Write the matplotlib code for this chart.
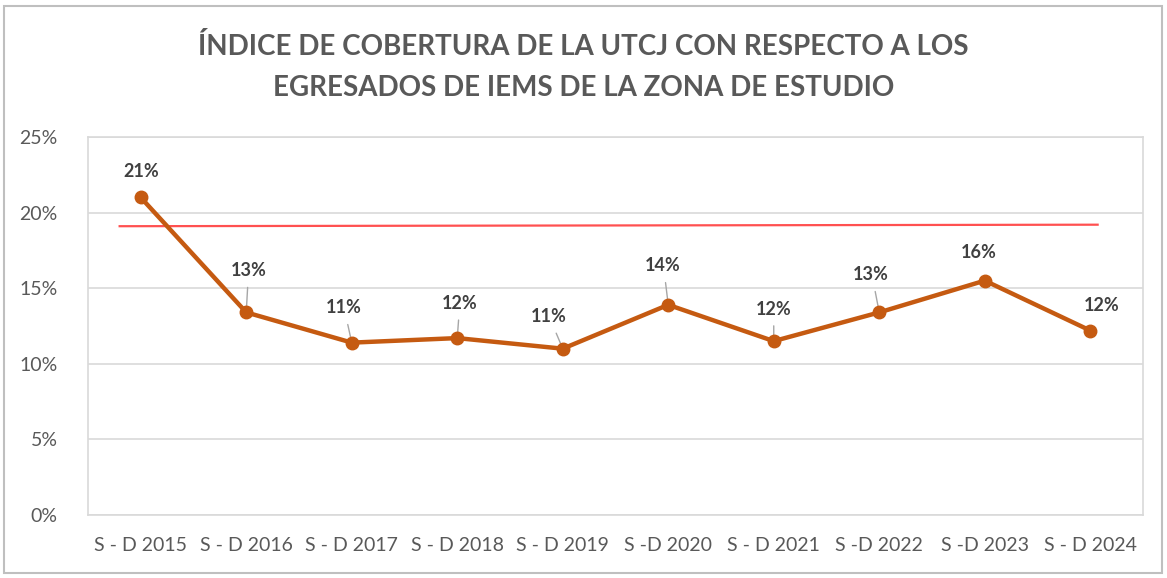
import matplotlib
matplotlib.use("Agg")
import matplotlib.pyplot as plt
from matplotlib.patches import Rectangle

categories = ["S - D 2015", "S - D 2016", "S - D 2017", "S - D 2018", "S - D 2019",
              "S -D 2020", "S - D 2021", "S -D 2022", "S -D 2023", "S - D 2024"]
values = [21.0, 13.4, 11.4, 11.7, 11.0, 13.9, 11.5, 13.4, 15.5, 12.2]
labels = ["21%", "13%", "11%", "12%", "11%", "14%", "12%", "13%", "16%", "12%"]
ref_x = [-0.2, 9.07]
ref_y = [19.1, 19.2]
yticks = [0, 5, 10, 15, 20, 25]
ytick_labels = ["0%", "5%", "10%", "15%", "20%", "25%"]
title = "ÍNDICE DE COBERTURA DE LA UTCJ CON RESPECTO A LOS\nEGRESADOS DE IEMS DE LA ZONA DE ESTUDIO"

# label offsets in points (dx, dy) and whether a leader line is drawn
label_offsets = [(0, 19), (2, 30), (-6, 25), (2, 25), (-10, 23), (-4, 28), (0, 23), (-6, 27), (-4, 20), (8, 18)]
leaders = [False, True, True, True, True, True, True, True, False, False]

plt.rcParams['font.family'] = ['Lato', 'DejaVu Sans']
fig = plt.figure(figsize=(11.67, 5.78), dpi=100)
ax = fig.add_axes([88/1167, 1 - 515/578, (1143-88)/1167, (515-137)/578])

x = list(range(len(categories)))
ax.plot(ref_x, ref_y, color="#FF5050", lw=1.6, zorder=2)
ax.plot(x, values, color="#C55A11", lw=3.2, marker="o", markersize=9, zorder=3)

for i, (v, lab) in enumerate(zip(values, labels)):
    dx, dy = label_offsets[i]
    ax.annotate(lab, (i, v), xytext=(dx, dy), textcoords="offset points",
                ha="center", va="center", fontsize=13, fontweight="bold", color="#404040",
                zorder=4)
    if leaders[i]:
        ax.annotate("", (i, v), xytext=(dx * 0.55, dy - 10), textcoords="offset points",
                    arrowprops=dict(arrowstyle="-", color="#A6A6A6", lw=1), zorder=2)

ax.set_xlim(-0.5, len(categories) - 0.5)
ax.set_ylim(0, 25)
ax.set_yticks(yticks)
ax.set_yticklabels(ytick_labels)
ax.set_xticks(x)
ax.set_xticklabels(categories)
ax.tick_params(axis="both", length=0, labelsize=14, colors="#595959")
ax.tick_params(axis="y", pad=22)
ax.tick_params(axis="x", pad=16)
ax.grid(axis="y", color="#D9D9D9", lw=1.2)
ax.set_axisbelow(True)
for s in ax.spines.values():
    s.set_color("#D9D9D9")
    s.set_linewidth(1.2)

fig.text(0.5, 1 - 67/578, title, ha="center", va="center", fontsize=20, fontweight="bold",
         color="#595959", linespacing=1.7)

fig.patches.append(Rectangle((4/1167, 1 - 573/578), 1158/1167, (573-6)/578, transform=fig.transFigure,
                             fill=False, edgecolor="#BFBFBF", lw=1.5))

fig.savefig("out.png", dpi=100)
